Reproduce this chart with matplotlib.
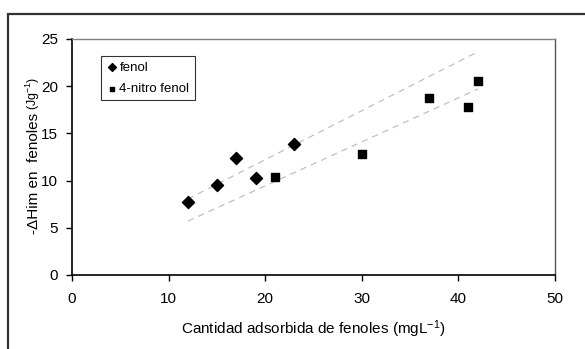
import numpy as np
import matplotlib.pyplot as plt
from matplotlib.patches import Rectangle

plt.rcParams['font.family'] = ['Liberation Sans', 'DejaVu Sans']
plt.rcParams['mathtext.fontset'] = 'custom'
plt.rcParams['mathtext.rm'] = 'Liberation Sans'
plt.rcParams['mathtext.it'] = 'Liberation Sans:italic'

# Data
fenol_x = [12, 15, 17, 19, 23]
fenol_y = [7.7, 9.5, 12.4, 10.3, 13.9]
nitro_x = [21, 30, 37, 41, 42]
nitro_y = [10.4, 12.8, 18.7, 17.8, 20.6]

W, H = 585, 349
fig = plt.figure(figsize=(5.85, 3.49), dpi=100)
ax = fig.add_axes([72 / W, 1 - 275 / H, (555 - 72) / W, (275 - 39) / H])

# outer chart frame (cut off at right and bottom)
fig.patches.append(Rectangle((8 / W, -0.1), 1.2, 0.1 + 1 - 14 / H,
                             transform=fig.transFigure, fill=False,
                             edgecolor='#333333', linewidth=1.6))

# linear trendlines
all_x = fenol_x + nitro_x
xs = np.array([min(all_x), max(all_x)])
for x, y in [(fenol_x, fenol_y), (nitro_x, nitro_y)]:
    m, b = np.polyfit(x, y, 1)
    ax.plot(xs, m * xs + b, color='#c0c0c0', linestyle=(0, (5, 4)), linewidth=0.9, zorder=1)

ax.scatter(fenol_x, fenol_y, marker='D', s=38, color='black', label='fenol', zorder=3)
ax.scatter(nitro_x, nitro_y, marker='s', s=30, color='black', label='4-nitro fenol', zorder=3)

ax.set_xlim(0, 50)
ax.set_ylim(0, 25)
ax.set_xticks(range(0, 51, 10))
ax.set_yticks(range(0, 26, 5))
ax.tick_params(direction='out', length=4, width=1, labelsize=11, color='black')
ax.tick_params(axis='x', pad=8)
ax.tick_params(axis='y', pad=6)

for s in ['left', 'bottom']:
    ax.spines[s].set_color('black')
    ax.spines[s].set_linewidth(1.2)
ax.spines['top'].set_color('#808080')
ax.spines['right'].set_color('#555555')
ax.spines['top'].set_linewidth(1)
ax.spines['right'].set_linewidth(1)

# axis titles
fig.text(313.5 / W, 1 - 329 / H, 'Cantidad adsorbida de fenoles (mgL$^{-1}$)',
         fontsize=11, ha='center', va='center')
fig.text(38 / W, 1 - 234 / H, '-ΔHim en  fenoles', fontsize=11, rotation=90,
         rotation_mode='anchor', ha='left', va='baseline')
fig.text(37 / W, 1 - 110 / H, '(Jg$^{-1}$)', fontsize=9, rotation=90,
         rotation_mode='anchor', ha='left', va='baseline')

leg = ax.legend(loc='upper left', bbox_to_anchor=(0.06, 0.928), fontsize=9.5,
                frameon=True, fancybox=False, edgecolor='black', handletextpad=0.2,
                handlelength=0.8, borderpad=0.4, labelspacing=0.7, scatterpoints=1,
                markerscale=0.65, borderaxespad=0)
leg.get_frame().set_linewidth(0.8)

fig.savefig('out.png', dpi=100)
